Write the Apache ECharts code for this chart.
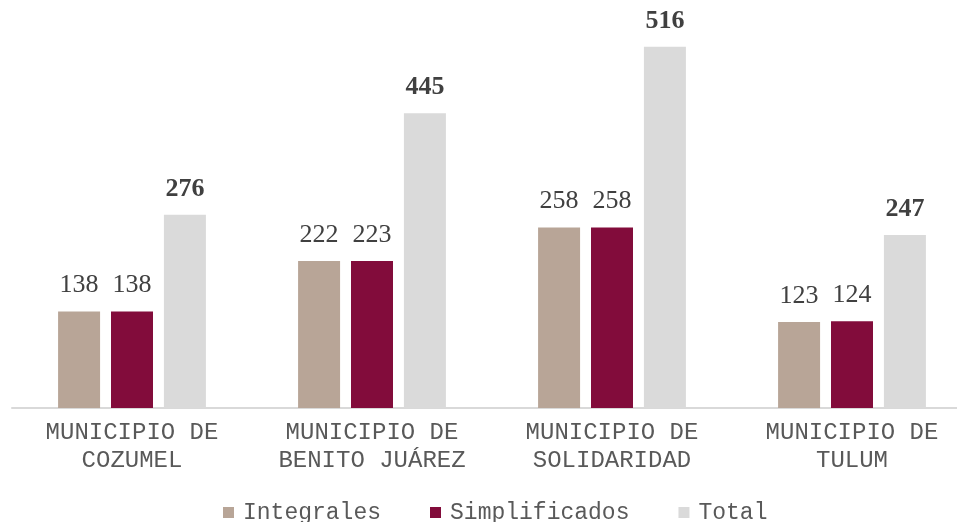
<!DOCTYPE html>
<html>
<head>
<meta charset="utf-8">
<script src="https://cdn.jsdelivr.net/npm/echarts@6/dist/echarts.min.js"></script>
<style>html,body{margin:0;padding:0;background:#fff}#c{width:957px;height:522px}</style>
</head>
<body>
<div id="c"></div>
<script>
const categories = ['MUNICIPIO DE\nCOZUMEL', 'MUNICIPIO DE\nBENITO JUÁREZ', 'MUNICIPIO DE\nSOLIDARIDAD', 'MUNICIPIO DE\nTULUM'];
// bar heights as drawn in the picture
const integrales = [138, 210, 258, 123];
const simplificados = [138, 210, 258, 124];
const total = [276, 421, 516, 247];
// value labels as printed above the bars
const integralesLabels = [138, 222, 258, 123];
const simplificadosLabels = [138, 223, 258, 124];
const totalLabels = [276, 445, 516, 247];

const chart = echarts.init(document.getElementById('c'));
const valLabel = (labels, bold) => ({
  show: true, position: 'top', distance: 13,
  formatter: (p) => String(labels[p.dataIndex]),
  fontFamily: '"Liberation Serif", "Times New Roman", serif',
  fontSize: 26, fontWeight: bold ? 'bold' : 'normal', color: '#404040'
});
chart.setOption({
  animation: false,
  grid: { left: 12, top: 23, width: 960, height: 385, outerBoundsMode: 'none', containLabel: false },
  legend: {
    left: 218, top: 496, itemWidth: 11, itemHeight: 11, itemGap: 49,
    icon: 'rect',
    textStyle: { fontFamily: '"Liberation Mono", "Courier New", monospace', fontSize: 23, color: '#595959', padding: [0, 0, 0, 4] },
    data: ['Integrales', 'Simplificados', 'Total']
  },
  xAxis: {
    type: 'category', data: categories,
    axisLine: { lineStyle: { color: '#D9D9D9', width: 2 } },
    axisTick: { show: false },
    axisLabel: { interval: 0, hideOverlap: false, margin: 11, lineHeight: 28, fontFamily: '"Liberation Mono", "Courier New", monospace', fontSize: 24, color: '#595959' }
  },
  yAxis: { type: 'value', min: 0, max: 550, show: false, splitLine: { show: false } },
  series: [
    { name: 'Integrales', type: 'bar', data: integrales, barWidth: 42, barGap: '26%', itemStyle: { color: '#B8A597' }, label: valLabel(integralesLabels, false) },
    { name: 'Simplificados', type: 'bar', data: simplificados, barWidth: 42, barGap: '26%', itemStyle: { color: '#820C3B' }, label: valLabel(simplificadosLabels, false) },
    { name: 'Total', type: 'bar', data: total, barWidth: 42, barGap: '26%', itemStyle: { color: '#DADADA' }, label: valLabel(totalLabels, true) }
  ]
});
</script>
</body>
</html>
